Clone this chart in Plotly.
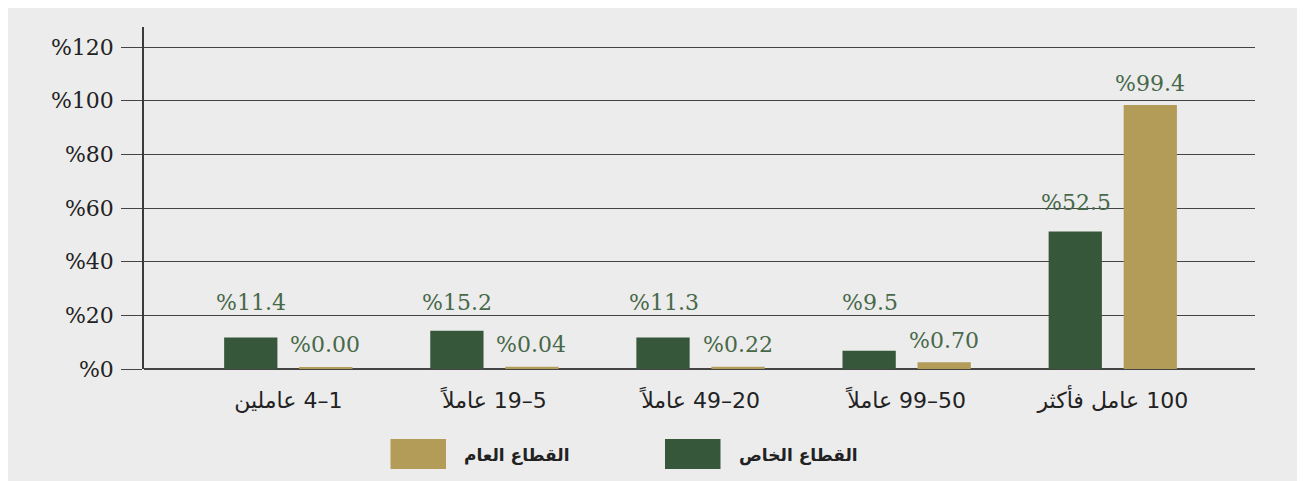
import plotly.graph_objects as go

# categorias (texto visual con LRM para fijar el orden de los digitos)
categorias = [
    "عاملين \u200e4–1",
    "عاملاً \u200e19–5",
    "عاملاً \u200e49–20",
    "عاملاً \u200e99–50",
    "عامل فأكثر \u200e100",
]
# alturas de barras
privado = [11.7, 14.3, 11.7, 6.8, 51.3]
publico = [0.4, 0.8, 0.8, 2.5, 98.4]
# etiquetas impresas
etiq_privado = ["%11.4", "%15.2", "%11.3", "%9.5", "%52.5"]
etiq_publico = ["%0.00", "%0.04", "%0.22", "%0.70", "%99.4"]
nombre_privado = "القطاع الخاص"
nombre_publico = "القطاع العام"
yticks = [0, 20, 40, 60, 80, 100, 120]

VERDE = "#37573b"
ORO = "#b39b58"
FONDO = "#ececec"
TXT_VERDE = "#476849"
LINEA = "#444444"
SERIF = "DejaVu Serif"
SANS = "DejaVu Sans"

# area del grafico (px dentro de la figura)
L, R, T, B = 136, 58, 19, 120
PW = 1305 - L - R
PH = 481 - T - B


def px_x(x):
    return (x - L) / PW


def px_y(y):
    return (481 - B - y) / PH


fig = go.Figure()
fig.add_trace(go.Bar(x=categorias, y=privado, marker_color=VERDE,
                     marker_line_width=0, name=nombre_privado))
fig.add_trace(go.Bar(x=categorias, y=publico, marker_color=ORO,
                     marker_line_width=0, name=nombre_publico))

# etiquetas de valores
for i, cat in enumerate(categorias):
    fig.add_annotation(x=cat, y=max(privado[i], 14.3) + 10.6, text=etiq_privado[i],
                       xshift=-37, showarrow=False,
                       font=dict(family=SERIF, size=22, color=TXT_VERDE))
    fig.add_annotation(x=cat, y=max(publico[i], 1.3) + 8, text=etiq_publico[i],
                       xshift=37, showarrow=False,
                       font=dict(family=SERIF, size=22, color=TXT_VERDE))

# leyenda manual (cuadro + texto)
leyenda = [(ORO, nombre_publico, 382.5, 438), (VERDE, nombre_privado, 657, 712.5)]
for color, nombre, x0, x1 in leyenda:
    fig.add_shape(type="rect", xref="paper", yref="paper",
                  x0=px_x(x0), x1=px_x(x1), y0=px_y(461), y1=px_y(431),
                  fillcolor=color, line_width=0)
    fig.add_annotation(xref="paper", yref="paper", x=px_x(x1 + 16),
                       y=px_y(447), xanchor="left", yanchor="middle",
                       text=f"<b>{nombre}</b>", showarrow=False,
                       font=dict(family=SANS, size=17, color="#222222"))

fig.update_layout(
    barmode="group",
    bargap=0.272,
    bargroupgap=0.29,
    showlegend=False,
    width=1305,
    height=481,
    margin=dict(l=L, r=R, t=T, b=B),
    paper_bgcolor=FONDO,
    plot_bgcolor=FONDO,
    xaxis=dict(
        range=[-0.7, 4.69],
        showgrid=False,
        ticks="",
        tickfont=dict(family=SANS, size=22, color="#222222"),
        ticklabelstandoff=16,
    ),
    yaxis=dict(
        range=[0, 127.5],
        tickvals=yticks,
        ticktext=[f"%{v}" for v in yticks],
        showgrid=True,
        gridcolor=LINEA,
        gridwidth=1,
        zeroline=True,
        zerolinecolor=LINEA,
        zerolinewidth=1.5,
        showline=True,
        linecolor="#3a3a3a",
        linewidth=1.5,
        ticks="outside",
        ticklen=21,
        tickcolor=LINEA,
        tickwidth=1,
        ticklabelstandoff=3,
        tickfont=dict(family=SERIF, size=22, color="#222222"),
    ),
)

fig.write_html("out.html")
